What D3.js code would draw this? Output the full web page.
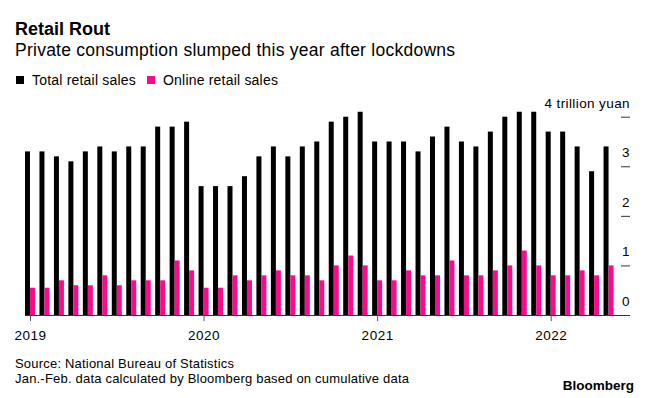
<!DOCTYPE html>
<html>
<head>
<meta charset="utf-8">
<title>Retail Rout</title>
<script src="https://cdn.jsdelivr.net/npm/d3@7"></script>
<style>
  * { margin: 0; padding: 0; }
  body { background: #fff; font-family: "Liberation Sans", Arial, sans-serif; }
  text { fill: #000; }
</style>
</head>
<body>
<div id="chart"></div>
<script>
// monthly values, Jan 2019 .. May 2022 (trillion yuan)
var years = ["2019", "2020", "2021", "2022"];
var totalSales = [
  3.3, 3.3, 3.2, 3.1, 3.3, 3.4, 3.3, 3.4, 3.4, 3.8, 3.8, 3.9,
  2.6, 2.6, 2.6, 2.8, 3.2, 3.4, 3.2, 3.4, 3.5, 3.9, 4.0, 4.1,
  3.5, 3.5, 3.5, 3.3, 3.6, 3.8, 3.5, 3.4, 3.7, 4.0, 4.1, 4.1,
  3.7, 3.7, 3.4, 2.9, 3.4
];
var onlineSales = [
  0.55, 0.55, 0.7, 0.6, 0.6, 0.8, 0.6, 0.7, 0.7, 0.7, 1.1, 0.9,
  0.55, 0.55, 0.8, 0.7, 0.8, 0.9, 0.8, 0.8, 0.7, 1.0, 1.2, 1.0,
  0.7, 0.7, 0.9, 0.8, 0.8, 1.1, 0.8, 0.8, 0.9, 1.0, 1.3, 1.0,
  0.8, 0.8, 0.9, 0.8, 1.0
];
var yTicks = [0, 1, 2, 3, 4];

var W = 646, H = 398;
var black = "#000", pink = "#fc0a8c";
var barW = 5;

var svg = d3.select("#chart").append("svg")
  .attr("width", W).attr("height", H);

// titles
svg.append("text").attr("x", 15).attr("y", 35)
  .style("font-size", "18px").style("font-weight", "bold")
  .text("Retail Rout");
svg.append("text").attr("x", 15).attr("y", 56)
  .style("font-size", "17.5px").style("letter-spacing", "0.25px")
  .text("Private consumption slumped this year after lockdowns");

// legend
var legend = [["Total retail sales", black, 16], ["Online retail sales", pink, 147]];
legend.forEach(function(l){
  svg.append("rect").attr("x", l[2]).attr("y", 76).attr("width", 8).attr("height", 8).attr("fill", l[1]);
  svg.append("text").attr("x", l[2] + 16).attr("y", 84.5)
    .style("font-size", "14px").style("letter-spacing", "0.2px").text(l[0]);
});

// scales
var x = d3.scaleLinear().domain([0, 36]).range([30, 550.7]);
var y = d3.scaleLinear().domain([0, 4]).range([315, 116.7]);

// bars
svg.append("g").selectAll("rect").data(totalSales).enter().append("rect")
  .attr("x", function(d, i){ return x(i) - barW; })
  .attr("y", function(d){ return y(d); })
  .attr("width", barW)
  .attr("height", function(d){ return y(0) - y(d); })
  .attr("fill", black);
svg.append("g").selectAll("rect").data(onlineSales).enter().append("rect")
  .attr("x", function(d, i){ return x(i); })
  .attr("y", function(d){ return y(d); })
  .attr("width", barW)
  .attr("height", function(d){ return y(0) - y(d); })
  .attr("fill", pink);

// right y axis: short dashes with labels above
var yg = svg.append("g");
yg.selectAll("line").data(yTicks.slice(1)).enter().append("line")
  .attr("x1", 621).attr("x2", 630)
  .attr("y1", function(d){ return y(d) + 0.5; })
  .attr("y2", function(d){ return y(d) + 0.5; })
  .attr("stroke", "#333").attr("stroke-width", 1);
yg.selectAll("text").data(yTicks).enter().append("text")
  .attr("x", 630).attr("y", function(d){ return y(d) - 9; })
  .attr("text-anchor", "end")
  .style("font-size", "13.5px").style("letter-spacing", "0.4px")
  .text(function(d){ return d == 4 ? "4 trillion yuan" : d; });

// x axis
svg.append("line").attr("x1", 25).attr("x2", 630)
  .attr("y1", 315.5).attr("y2", 315.5)
  .attr("stroke", "#333").attr("stroke-width", 1);
var xg = svg.append("g").attr("transform", "translate(0,315)")
  .call(d3.axisBottom(x).tickValues([0, 12, 24, 36])
    .tickFormat(function(d){ return years[d / 12]; })
    .tickSize(6).tickPadding(9));
xg.select(".domain").remove();
xg.selectAll(".tick line").attr("stroke", "#555");
xg.selectAll(".tick text").style("font-size", "13.5px").style("letter-spacing", "0.5px")
  .style("font-family", "'Liberation Sans', Arial, sans-serif").attr("fill", "#000");

// footer
svg.append("text").attr("x", 15).attr("y", 368)
  .style("font-size", "13px").style("letter-spacing", "0.2px")
  .text("Source: National Bureau of Statistics");
svg.append("text").attr("x", 15).attr("y", 383)
  .style("font-size", "13px").style("letter-spacing", "0.2px")
  .text("Jan.-Feb. data calculated by Bloomberg based on cumulative data");
svg.append("text").attr("x", 634).attr("y", 390).attr("text-anchor", "end")
  .style("font-size", "13.5px").style("font-weight", "bold")
  .text("Bloomberg");
</script>
</body>
</html>
